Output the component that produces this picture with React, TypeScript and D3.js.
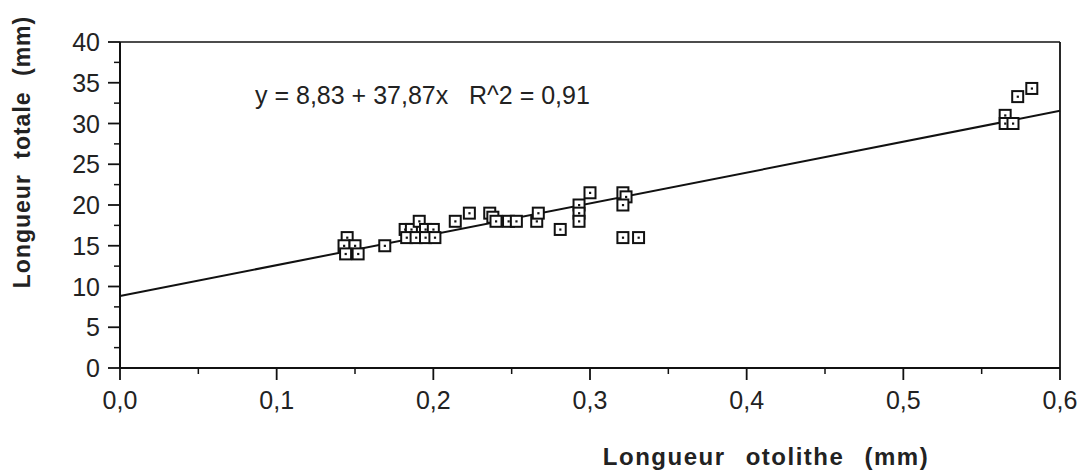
import React from "react";
import * as d3 from "d3";

const otolithX = [
  0.145, 0.143, 0.150, 0.144, 0.152, 0.169,
  0.182, 0.186, 0.191, 0.195, 0.200, 0.183, 0.189, 0.195, 0.201,
  0.214, 0.223, 0.236, 0.238, 0.240, 0.248, 0.253, 0.266, 0.267, 0.281,
  0.293, 0.293, 0.293, 0.300, 0.321, 0.323, 0.321, 0.321, 0.331,
  0.565, 0.565, 0.570, 0.573, 0.582,
];
const totalY = [
  16, 15, 15, 14, 14, 15,
  17, 17, 18, 17, 17, 16, 16, 16, 16,
  18, 19, 19, 18.5, 18, 18, 18, 18, 19, 17,
  20, 19, 18, 21.5, 21.5, 21, 20, 16, 16,
  31, 30, 30, 33.3, 34.3,
];
const intercept = 8.83;
const slope = 37.87;
const equationText = "y = 8,83 + 37,87x   R^2 = 0,91";
const xTicks = [0, 0.1, 0.2, 0.3, 0.4, 0.5, 0.6];
const xMinorTicks = [0.05, 0.15, 0.25, 0.35, 0.45, 0.55];
const yTicks = [0, 5, 10, 15, 20, 25, 30, 35, 40];
const yMinorTicks = [2.5, 7.5, 12.5, 17.5, 22.5, 27.5, 32.5, 37.5];
const xLabel = "Longueur otolithe (mm)";
const yLabel = "Longueur totale (mm)";

export default function App() {
  const W = 1090, H = 475;
  const left = 120, right = 1060, top = 42, bottom = 368;
  const x = d3.scaleLinear().domain([0, 0.6]).range([left, right]);
  const y = d3.scaleLinear().domain([0, 40]).range([bottom, top]);
  const fmt = (v: number) => v.toFixed(1).replace(".", ",");
  const line = d3.line<number>().x((d) => x(d)).y((d) => y(intercept + slope * d));
  const font = "'Liberation Sans', Arial, Helvetica, sans-serif";
  const s = 11;
  return (
    <svg width={W} height={H} style={{ position: "absolute", left: 0, top: 0, background: "#fff" }}>
      <rect x={0} y={0} width={W} height={H} fill="#fff" />
      <line x1={left} x2={right} y1={top} y2={top} stroke="#111" strokeWidth={1.6} />
      <line x1={right} x2={right} y1={top} y2={bottom} stroke="#111" strokeWidth={1.8} />
      <line x1={left} x2={right} y1={bottom} y2={bottom} stroke="#111" strokeWidth={2} />
      <line x1={left} x2={left} y1={top} y2={bottom} stroke="#111" strokeWidth={2} />
      {xTicks.map((t) => (
        <g key={"xt" + t}>
          <line x1={x(t)} x2={x(t)} y1={bottom} y2={bottom + 12} stroke="#111" strokeWidth={1.8} />
          <text x={x(t)} y={bottom + 41} textAnchor="middle" fontFamily={font} fontSize={25} fill="#222">{fmt(t)}</text>
        </g>
      ))}
      {xMinorTicks.map((t) => (
        <line key={"xm" + t} x1={x(t)} x2={x(t)} y1={bottom} y2={bottom + 6} stroke="#111" strokeWidth={1.5} />
      ))}
      {yTicks.map((t) => (
        <g key={"yt" + t}>
          <line x1={left - 12} x2={left} y1={y(t)} y2={y(t)} stroke="#111" strokeWidth={1.8} />
          <text x={left - 20} y={y(t) + 9} textAnchor="end" fontFamily={font} fontSize={25} fill="#222">{t}</text>
        </g>
      ))}
      {yMinorTicks.map((t) => (
        <line key={"ym" + t} x1={left - 6} x2={left} y1={y(t)} y2={y(t)} stroke="#111" strokeWidth={1.5} />
      ))}
      <path d={line([0, 0.6]) || ""} fill="none" stroke="#111" strokeWidth={2} />
      {otolithX.map((xv, i) => (
        <g key={"p" + i}>
          <rect x={x(xv) - s / 2} y={y(totalY[i]) - s / 2} width={s} height={s} fill="#fff" stroke="#111" strokeWidth={2} />
          <rect x={x(xv) - 1} y={y(totalY[i]) - 1} width={2.2} height={2.2} fill="#111" />
        </g>
      ))}
      <text x={255} y={104} fontFamily={font} fontSize={25} fill="#222" style={{ whiteSpace: "pre" }}>{equationText}</text>
      <text x={766} y={465} textAnchor="middle" fontFamily={font} fontSize={24} fontWeight="bold" fill="#222" letterSpacing={1.5} wordSpacing={12}>{xLabel}</text>
      <text transform={`translate(30,152) rotate(-90)`} textAnchor="middle" fontFamily={font} fontSize={23} fontWeight="bold" fill="#222" letterSpacing={1} wordSpacing={8}>{yLabel}</text>
    </svg>
  );
}
